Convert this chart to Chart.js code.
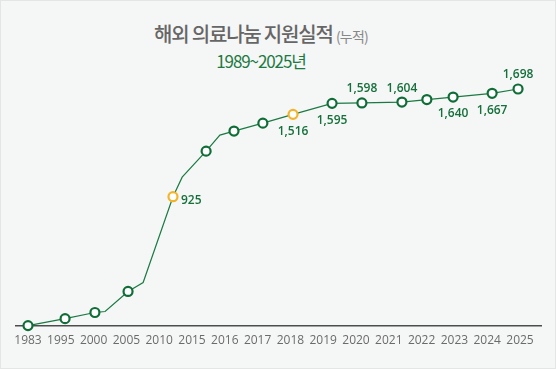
<!DOCTYPE html>
<html>
<head>
<meta charset="utf-8">
<script src="https://cdn.jsdelivr.net/npm/chart.js@4"></script>
<style>
  html, body { margin: 0; padding: 0; }
  body { width: 556px; height: 369px; background: #f5f6f6; position: relative; overflow: hidden; font-family: "Noto Sans CJK KR", "Noto Sans", sans-serif; }
  .frame { position: absolute; left: 0; top: 0; width: 554px; height: 367px; border: 1px solid #e4e6e6; }
  .title { position: absolute; left: 0; width: 522px; top: 21px; text-align: center; color: #666; font-size: 20px; font-weight: 500; letter-spacing: -1.2px; line-height: 26px; }
  .title small { font-size: 14px; font-weight: 400; color: #888; letter-spacing: -0.8px; }
  .subtitle { position: absolute; left: 0; width: 522px; top: 50px; text-align: center; color: #1e7a43; font-size: 17px; font-weight: 400; letter-spacing: -1.1px; line-height: 22px; }
  canvas { position: absolute; left: 0; top: 0; }
</style>
</head>
<body>
<div class="frame"></div>
<div class="title">해외 의료나눔 지원실적 <small>(누적)</small></div>
<div class="subtitle">1989~2025년</div>
<canvas id="chart" width="556" height="369"></canvas>
<script>
// Axis labels (evenly spaced, not a time scale)
const yearLabels = ["1983", "1995", "2000", "2005", "2010", "2015", "2016", "2017", "2018",
  "2019", "2020", "2021", "2022", "2023", "2024", "2025"];

// Line vertices: position along the label index axis, and cumulative value
const xIndex = [0, 1.13, 2.04, 2.35, 3.05, 3.51, 4.42, 4.70, 5.43, 5.85, 6.28, 7.16, 8.08,
  9.27, 10.18, 11.40, 12.16, 12.96, 14.15, 14.94];
const cumulative = [0, 50, 94, 101, 245, 309, 925, 1065, 1252, 1367, 1396, 1453, 1516,
  1595, 1598, 1604, 1622, 1640, 1667, 1698];

// Which vertices get a marker, and which are highlighted
const hasMarker = [1, 1, 1, 0, 1, 0, 1, 0, 1, 0, 1, 1, 1, 1, 1, 1, 1, 1, 1, 1];
const highlighted = [0, 0, 0, 0, 0, 0, 1, 0, 0, 0, 0, 0, 1, 0, 0, 0, 0, 0, 0, 0];

// Value labels shown beside some markers
const valueLabels = [null, null, null, null, null, null, "925", null, null, null, null, null, "1,516",
  "1,595", "1,598", "1,604", null, "1,640", "1,667", "1,698"];
const labelSide = [null, null, null, null, null, null, "right", null, null, null, null, null, "below",
  "below", "above", "above", null, "below", "below", "above"];

const GREEN = "#0f6d37";
const YELLOW = "#f3b429";

// draws the number next to each labelled marker
const valueLabelPlugin = {
  id: "valueLabels",
  afterDatasetsDraw(chart) {
    const ctx = chart.ctx;
    const meta = chart.getDatasetMeta(0);
    ctx.save();
    ctx.font = "600 12px 'Open Sans', 'Noto Sans', sans-serif";
    ctx.fillStyle = "#16703b";
    ctx.textBaseline = "middle";
    meta.data.forEach((pt, i) => {
      const text = valueLabels[i];
      if (!text) return;
      const side = labelSide[i];
      if (side === "right") {
        ctx.textAlign = "left";
        ctx.fillText(text, pt.x + 8, pt.y + 4);
      } else if (side === "below") {
        ctx.textAlign = "center";
        ctx.fillText(text, pt.x, pt.y + 17);
      } else {
        ctx.textAlign = "center";
        ctx.fillText(text, pt.x, pt.y - 14);
      }
    });
    ctx.restore();
  }
};

const ctx = document.getElementById("chart").getContext("2d");

new Chart(ctx, {
  type: "line",
  data: {
    datasets: [{
      data: xIndex.map((x, i) => ({ x: x, y: cumulative[i] })),
      borderColor: "#1b7a44",
      borderWidth: 1.2,
      tension: 0,
      clip: false,
      pointRadius: hasMarker.map(m => (m ? 4.5 : 0)),
      pointHoverRadius: hasMarker.map(m => (m ? 4.5 : 0)),
      pointBorderWidth: 2.2,
      pointBackgroundColor: "#ffffff",
      pointBorderColor: highlighted.map(h => (h ? YELLOW : GREEN)),
    }],
  },
  options: {
    responsive: false,
    animation: false,
    events: [],
    layout: { padding: { left: 16, right: 15, top: 60, bottom: 13 } },
    plugins: {
      legend: { display: false },
      tooltip: { enabled: false },
    },
    scales: {
      x: {
        type: "linear",
        min: -0.366,
        max: 15.64,
        afterBuildTicks(scale) {
          scale.ticks = yearLabels.map((_, i) => ({ value: i }));
        },
        grid: { display: false, drawTicks: false },
        border: { display: true, color: "#4d4d4d", width: 1.5 },
        ticks: {
          autoSkip: false,
          maxRotation: 0,
          padding: 8,
          color: "#6b6b6b",
          font: { family: "'Open Sans', 'Noto Sans', sans-serif", size: 12 },
          callback: (value) => yearLabels[value],
        },
      },
      y: {
        display: false,
        min: 0,
        max: 1906,
      },
    },
  },
  plugins: [valueLabelPlugin],
});
</script>
</body>
</html>
